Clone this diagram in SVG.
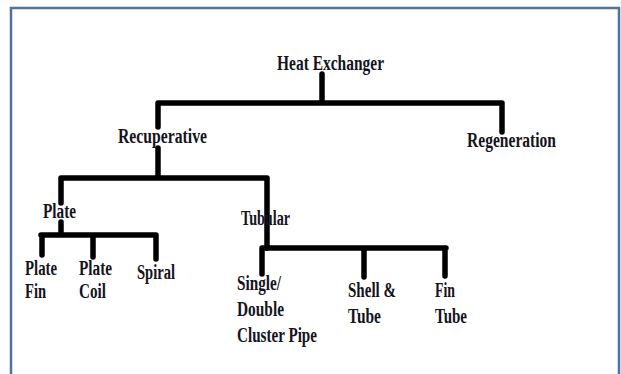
<svg xmlns="http://www.w3.org/2000/svg" width="621" height="374" viewBox="0 0 621 374">
<style>
.t{font-family:"Liberation Serif","Times New Roman",serif;font-weight:bold;font-size:20px;fill:#141420}
.c{fill:none;stroke:#000;stroke-width:5.5;stroke-linecap:round;stroke-linejoin:round}
</style>
<rect x="0" y="0" width="621" height="374" fill="#fff"/>
<path d="M11,374 V8 H619 V374" fill="none" stroke="#50709f" stroke-width="2.5"/>
<g id="connectors">
<path class="c" d="M322,74 V103 M158,103 H502 M158,103 V127 M502,103 V132"/>
<path class="c" d="M158,148 V178 M61,178 H267 M61,178 V203 M267,178 V248"/>
<path class="c" d="M61,222 V235 M41,235 H156 M42,235 V255 M93,235 V257 M156,235 V259"/>
<path class="c" d="M262,248 H446 M262,248 V274 M364,248 V277 M445,248 V276"/>
</g>
<g id="heat-exchanger"><text class="t" x="277" y="70" textLength="107" lengthAdjust="spacingAndGlyphs">Heat Exchanger</text></g>
<g id="recuperative"><text class="t" x="118" y="143" textLength="89" lengthAdjust="spacingAndGlyphs">Recuperative</text></g>
<g id="regeneration"><text class="t" x="467" y="147" textLength="89" lengthAdjust="spacingAndGlyphs">Regeneration</text></g>
<g id="plate"><text class="t" x="43" y="218" textLength="33" lengthAdjust="spacingAndGlyphs">Plate</text></g>
<g id="tubular"><text class="t" x="241" y="225" textLength="49" lengthAdjust="spacingAndGlyphs">Tubular</text></g>
<g id="plate-fin"><text class="t" x="25" y="275" textLength="32" lengthAdjust="spacingAndGlyphs">Plate</text><text class="t" x="25" y="298" textLength="21" lengthAdjust="spacingAndGlyphs">Fin</text></g>
<g id="plate-coil"><text class="t" x="79" y="275" textLength="33" lengthAdjust="spacingAndGlyphs">Plate</text><text class="t" x="79" y="298" textLength="27" lengthAdjust="spacingAndGlyphs">Coil</text></g>
<g id="spiral"><text class="t" x="137" y="279" textLength="38" lengthAdjust="spacingAndGlyphs">Spiral</text></g>
<g id="single-double"><text class="t" x="237" y="290" textLength="44" lengthAdjust="spacingAndGlyphs">Single/</text><text class="t" x="237" y="316" textLength="47" lengthAdjust="spacingAndGlyphs">Double</text><text class="t" x="237" y="342" textLength="80" lengthAdjust="spacingAndGlyphs">Cluster Pipe</text></g>
<g id="shell-tube"><text class="t" x="348" y="297" textLength="48" lengthAdjust="spacingAndGlyphs">Shell &amp;</text><text class="t" x="348" y="323" textLength="33" lengthAdjust="spacingAndGlyphs">Tube</text></g>
<g id="fin-tube"><text class="t" x="435" y="297" textLength="20" lengthAdjust="spacingAndGlyphs">Fin</text><text class="t" x="435" y="323" textLength="32" lengthAdjust="spacingAndGlyphs">Tube</text></g>
</svg>
